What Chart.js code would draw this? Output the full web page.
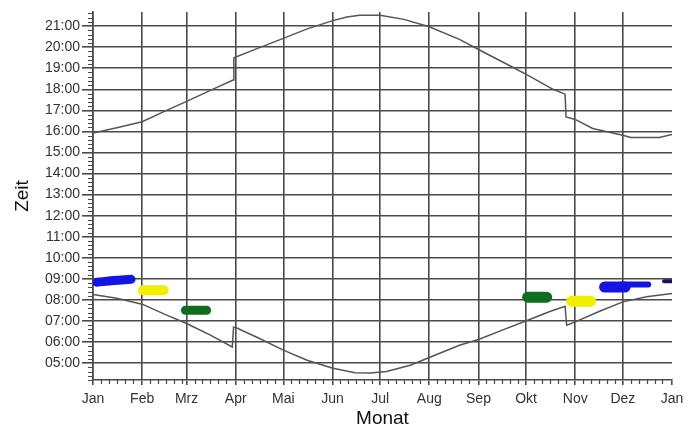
<!DOCTYPE html>
<html>
<head>
<meta charset="utf-8">
<script src="https://cdn.jsdelivr.net/npm/chart.js@4.4.1/dist/chart.umd.min.js"></script>
<style>
  html, body { margin: 0; padding: 0; background: #fff; }
  #wrap { width: 700px; height: 430px; }
</style>
</head>
<body>
<div id="wrap"><canvas id="sunChart" width="700" height="430"></canvas></div>
<script>
// Achsen
const monthLabels = ['Jan', 'Feb', 'Mrz', 'Apr', 'Mai', 'Jun', 'Jul', 'Aug', 'Sep', 'Okt', 'Nov', 'Dez', 'Jan'];
const monthStartDays = [0, 31, 59, 90, 120, 151, 181, 212, 243, 273, 304, 334, 365];
const hourTicks = [5, 6, 7, 8, 9, 10, 11, 12, 13, 14, 15, 16, 17, 18, 19, 20, 21];

// Sonnenuntergang (Tag im Jahr, Stunde)
const sunsetDays  = [0, 15, 31, 45, 59, 74, 88.3, 88.8, 105, 120, 135, 150.7, 160, 168, 181, 196, 212, 231, 243, 264, 274, 290, 297.6, 298.2, 304, 315, 334, 339, 357, 365];
const sunsetHours = [15.92, 16.17, 16.46, 16.95, 17.43, 17.95, 18.44, 19.5, 19.98, 20.42, 20.87, 21.25, 21.43, 21.52, 21.52, 21.32, 20.97, 20.37, 19.89, 19.07, 18.67, 18.0, 17.77, 16.69, 16.57, 16.14, 15.82, 15.71, 15.71, 15.86];

// Sonnenaufgang
const sunriseDays  = [0, 15, 31, 45, 59, 74, 87.8, 88.6, 90, 105, 120, 135, 150.7, 165, 175, 185, 200, 212, 231, 243, 258, 274, 288, 297.6, 298.6, 304, 319, 334, 349, 365];
const sunriseHours = [8.26, 8.08, 7.8, 7.33, 6.88, 6.33, 5.77, 6.71, 6.69, 6.17, 5.62, 5.14, 4.77, 4.55, 4.53, 4.6, 4.9, 5.27, 5.85, 6.12, 6.57, 7.04, 7.45, 7.7, 6.8, 6.96, 7.45, 7.91, 8.15, 8.31];

// Markierungen
const markerDays  = [[2.5, 13, 24], [31.5, 44.5], [58.3, 71.6], [274, 286], [301.7, 313.7], [322.5, 335.4], [333, 350], [360, 364.5]];
const markerHours = [[8.84, 8.92, 8.98], [8.46, 8.46], [7.51, 7.51], [8.13, 8.13], [7.94, 7.94], [8.61, 8.61], [8.73, 8.73], [8.89, 8.89]];

const toPoints = (days, hours) => days.map((d, i) => ({ x: d, y: hours[i] }));

const markerStyles = [
  { color: '#1414e6', width: 9 },
  { color: '#f2ee00', width: 10 },
  { color: '#0f6e1e', width: 9 },
  { color: '#0f6e1e', width: 11 },
  { color: '#f2ee00', width: 11 },
  { color: '#1414e6', width: 11 },
  { color: '#1414e6', width: 6 },
  { color: '#141460', width: 4 }
];

const lineColor = '#4a4a4a';
const tickFont = { family: 'Liberation Sans, Arial, sans-serif', size: 14 };
const titleFont = { family: 'Liberation Sans, Arial, sans-serif', size: 19 };

// kleine Zwischenstriche an den Achsen
const minorTicks = {
  id: 'minorTicks',
  afterDraw(chart) {
    const { ctx, chartArea, scales: { x, y } } = chart;
    ctx.save();
    ctx.strokeStyle = lineColor;
    ctx.lineWidth = 1.2;
    ctx.beginPath();
    for (let m = Math.ceil(y.min * 5); m <= Math.floor(y.max * 5); m++) {
      if (m % 5 === 0) continue;
      const py = Math.round(y.getPixelForValue(m / 5)) + 0.5;
      ctx.moveTo(chartArea.left - 5, py);
      ctx.lineTo(chartArea.left, py);
    }
    monthStartDays.slice(0, -1).forEach(d => {
      [5, 10, 15, 20, 25].forEach(o => {
        const px = Math.round(x.getPixelForValue(d + o)) + 0.5;
        ctx.moveTo(px, chartArea.bottom);
        ctx.lineTo(px, chartArea.bottom + 4);
      });
    });
    ctx.stroke();
    ctx.restore();
  }
};

const datasets = [
  {
    label: 'Sonnenuntergang',
    data: toPoints(sunsetDays, sunsetHours),
    borderColor: '#555',
    borderWidth: 1.5,
    pointRadius: 0,
    tension: 0
  },
  {
    label: 'Sonnenaufgang',
    data: toPoints(sunriseDays, sunriseHours),
    borderColor: '#555',
    borderWidth: 1.5,
    pointRadius: 0,
    tension: 0
  }
];

markerDays.forEach((days, i) => {
  datasets.push({
    label: 'Markierung ' + (i + 1),
    data: toPoints(days, markerHours[i]),
    borderColor: markerStyles[i].color,
    borderWidth: markerStyles[i].width,
    borderCapStyle: 'round',
    borderJoinStyle: 'round',
    pointRadius: 0,
    tension: 0.4
  });
});

let ctx = document.getElementById('sunChart').getContext('2d');
let sunChart = new Chart(ctx, {
  type: 'line',
  data: { datasets: datasets },
  options: {
    responsive: false,
    animation: false,
    layout: { padding: { top: 12, right: 28, left: 0, bottom: 0 } },
    plugins: {
      legend: { display: false },
      tooltip: { enabled: false }
    },
    scales: {
      x: {
        type: 'linear',
        min: 0,
        max: 365,
        afterBuildTicks: s => { s.ticks = monthStartDays.map(v => ({ value: v })); },
        afterFit: s => { s.height = 50; },
        ticks: {
          autoSkip: false,
          maxRotation: 0,
          callback: (v, i) => monthLabels[i],
          font: tickFont,
          color: '#333',
          padding: 6
        },
        grid: {
          color: c => (c.tick && c.tick.value === 365) ? 'rgba(0,0,0,0)' : lineColor,
          tickColor: lineColor,
          lineWidth: 1.6,
          tickLength: 5
        },
        border: { color: lineColor, width: 1.6 },
        title: { display: true, text: 'Monat', font: titleFont, color: '#111', padding: { top: 0, bottom: 0 } }
      },
      y: {
        type: 'linear',
        min: 4.2,
        max: 21.67,
        afterBuildTicks: s => { s.ticks = hourTicks.map(v => ({ value: v })); },
        afterFit: s => { s.width = 93; },
        ticks: {
          callback: v => (v < 10 ? '0' : '') + v + ':00',
          font: tickFont,
          color: '#333',
          padding: 2
        },
        grid: { color: lineColor, lineWidth: 1.6, tickLength: 11 },
        border: { color: lineColor, width: 1.6 },
        title: { display: true, text: 'Zeit', font: titleFont, color: '#111', padding: { top: 11, bottom: 0 } }
      }
    }
  },
  plugins: [minorTicks]
});
</script>
</body>
</html>
